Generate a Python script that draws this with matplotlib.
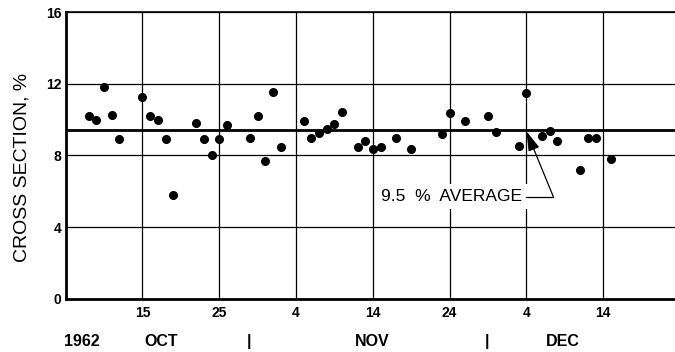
import matplotlib
matplotlib.use("Agg")
import matplotlib.pyplot as plt
import matplotlib.transforms as mtransforms

plt.rcParams["font.family"] = ["Liberation Sans", "DejaVu Sans"]

# day number counted from Sep 30, 1962 (so Oct 15 -> 15, Nov 4 -> 35, Dec 4 -> 65)
days = [8, 9, 10, 11, 12, 15, 16, 17, 18, 19, 22, 23, 24, 25, 26,
        29, 30, 31, 32, 33, 36, 37, 38, 39, 40, 41, 43, 44, 45, 46,
        48, 50, 54, 55, 57, 60, 61, 64, 65, 67, 68, 69, 72, 73, 74, 76]
cross_section = [10.2, 10.0, 11.8, 10.25, 8.9, 11.25, 10.2, 10.0, 8.9, 5.8,
                 9.8, 8.9, 8.0, 8.9, 9.7, 9.0, 10.2, 7.7, 11.55, 8.45,
                 9.9, 9.0, 9.25, 9.45, 9.75, 10.45, 8.5, 8.8, 8.35, 8.45,
                 9.0, 8.35, 9.2, 10.35, 9.95, 10.2, 9.3, 8.55, 11.5, 9.1,
                 9.35, 8.8, 7.2, 9.0, 9.0, 7.8]
average = 9.4

tick_days = [15, 25, 35, 45, 55, 65, 75]
tick_labels = ["15", "25", "4", "14", "24", "4", "14"]
month_pos = [7.05, 17.4, 28.9, 44.9, 59.9, 69.7]
month_labels = ["1962", "OCT", "|", "NOV", "|", "DEC"]

fig = plt.figure(figsize=(6.75, 3.52), dpi=100)
ax = fig.add_axes([0.0973, 0.1506, 0.9027, 0.8153])

ax.set_xlim(5, 84.34)
ax.set_ylim(0, 16)
ax.set_xticks(tick_days)
ax.set_xticklabels(tick_labels, fontsize=10, fontweight="bold")
ax.set_yticks([0, 4, 8, 12, 16])
ax.set_yticklabels(["0", "4", "8", "12", "16"], fontsize=10, fontweight="bold")
ax.tick_params(length=0)
ax.tick_params(axis="x", pad=5)
ax.tick_params(axis="y", pad=3)
ax.grid(True, color="black", linewidth=0.9)
ax.set_axisbelow(True)

ax.spines["right"].set_visible(False)
ax.spines["left"].set_linewidth(2)
ax.spines["bottom"].set_linewidth(2)
ax.spines["top"].set_linewidth(1.2)

ax.axhline(average, color="black", linewidth=2, zorder=2)
ax.plot(days, cross_section, "o", color="black", markersize=5.5, zorder=3)

ax.set_ylabel("CROSS SECTION, %", fontsize=14)
ax.yaxis.set_label_coords(-0.057, 0.46)

# month row under the day labels
trans = mtransforms.blended_transform_factory(ax.transData, ax.transAxes)
for pos, lab in zip(month_pos, month_labels):
    ax.text(pos, -0.149, lab, transform=trans, ha="center", va="center",
            fontsize=11.5, fontweight="bold")

# average annotation
ax.text(46.1, 5.7, "9.5  %  AVERAGE", fontsize=12.5, ha="left", va="center",
        bbox=dict(boxstyle="square,pad=0.3", facecolor="white", edgecolor="none"),
        zorder=4)
ax.plot([65.0, 68.5], [5.7, 5.7], color="black", linewidth=0.9, zorder=4)
ax.annotate("", xy=(65.0, 9.35), xytext=(68.5, 5.7),
            arrowprops=dict(arrowstyle="-|>,head_length=1.2,head_width=0.35",
                            color="black", linewidth=0.9,
                            shrinkA=0, shrinkB=0),
            zorder=4)

fig.savefig("out.png", dpi=100)
